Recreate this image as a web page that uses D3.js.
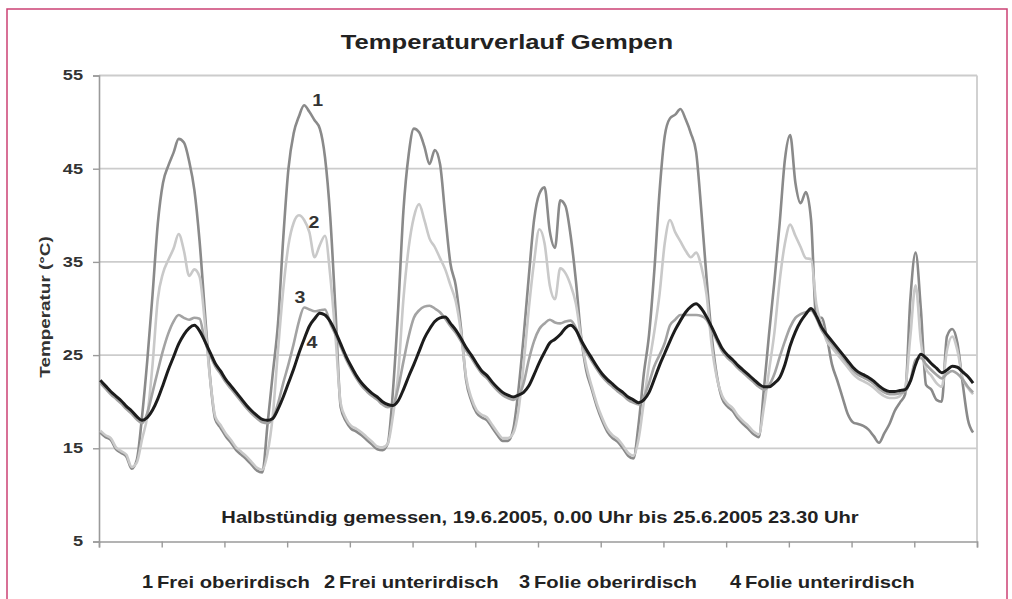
<!DOCTYPE html>
<html>
<head>
<meta charset="utf-8">
<script src="https://cdn.jsdelivr.net/npm/d3@7"></script>
<style>
  body { margin: 0; background: #fff; }
  svg { display: block; font-family: "Liberation Sans", Arial, sans-serif; }
</style>
</head>
<body>
<svg width="1012" height="599"></svg>
<script>
// Hourly readings (hour 0 = 19.6.2005 0.00 Uhr), values in °C
const hours = d3.range(0, 168);

const freiOber = [
  16.7, 16.2, 15.9, 14.9, 14.5, 14.1, 12.8, 13.8, 18.5, 24.5, 31.5, 39.1,
  43.5, 45.3, 46.7, 48.2, 47.8, 45.8, 42.7, 37.2, 29.7, 22.6, 18.1, 17.2,
  16.3, 15.6, 14.8, 14.3, 13.8, 13.2, 12.6, 12.4, 17.6, 23.0, 28.4, 37.5,
  45.0, 48.8, 50.6, 51.8, 51.1, 50.2, 49.3, 46.2, 39.8, 29.8, 19.4, 17.9,
  17.1, 16.8, 16.4, 15.9, 15.4, 14.9, 14.8, 15.5, 21.2, 30.0, 40.5, 46.5,
  49.3, 48.9, 47.4, 45.5, 47.0, 45.5, 40.0, 34.8, 32.5, 28.0, 22.3, 20.1,
  18.8, 18.3, 18.0, 17.2, 16.4, 15.8, 15.8, 17.0, 21.2, 27.0, 33.5, 39.5,
  42.3, 43.0, 38.3, 36.5, 41.6, 41.0, 37.8, 33.0, 27.0, 23.3, 21.4, 19.5,
  18.0, 16.8, 16.1, 15.7, 15.0, 14.2, 13.9, 17.6, 23.0, 27.2, 34.0, 42.5,
  48.5, 50.4, 50.8, 51.4, 50.3, 48.8, 46.8, 40.5, 33.3, 27.0, 22.7, 20.3,
  19.5, 19.0, 18.2, 17.6, 17.1, 16.5, 16.2, 21.5, 27.5, 33.0, 39.2, 46.0,
  48.6, 43.5, 41.3, 42.5, 39.5, 29.0, 29.0, 27.0, 24.0, 22.3, 20.5, 18.7,
  17.8, 17.6, 17.4, 17.0, 16.3, 15.6, 16.6, 17.6, 19.0, 19.9, 20.8, 31.0,
  36.0, 30.0, 21.8, 21.3, 20.2, 20.0, 27.0, 27.8, 26.3, 22.0, 18.1, 16.7
];

const freiUnter = [
  16.9, 16.4, 16.1, 15.1, 14.7, 14.3, 13.0, 13.5, 16.0, 18.5, 24.0, 31.0,
  33.8, 35.2, 36.4, 38.0, 36.2, 33.5, 34.2, 33.4, 28.5, 22.5, 18.4, 17.5,
  16.6, 15.9, 15.1, 14.6, 14.1, 13.5, 12.9, 12.7, 14.5, 18.5, 25.5, 32.0,
  36.8, 39.2, 40.0, 39.5, 38.2, 35.5, 36.8, 37.8, 33.5, 27.0, 19.8, 18.2,
  17.4, 17.1, 16.7, 16.2, 15.7, 15.2, 15.1, 15.5, 18.5, 23.0, 31.0, 36.5,
  39.8, 41.2, 39.5, 37.5, 36.6, 35.4, 34.2, 32.5, 30.8, 27.5, 22.6, 20.4,
  19.1, 18.6, 18.3, 17.5, 16.7, 16.1, 16.1, 16.6, 19.0, 24.0, 30.0, 35.0,
  38.5, 37.0, 32.5, 31.0, 34.3, 33.8, 32.5, 30.5, 26.8, 23.8, 21.7, 19.8,
  18.3, 17.1, 16.4, 16.0, 15.3, 14.5, 14.2, 16.0, 20.0, 24.0, 27.5, 31.5,
  37.0, 39.5, 38.2, 37.2, 36.2, 35.5, 36.0, 34.5, 31.5, 26.0, 22.5, 20.6,
  19.8, 19.3, 18.5, 17.9, 17.4, 16.8, 16.5, 19.5, 23.5, 27.5, 33.0, 37.0,
  39.0, 37.8, 36.6, 35.4, 35.3, 30.5, 28.3, 26.5, 25.8, 25.1, 24.4, 23.7,
  23.0, 22.5, 22.2, 21.9, 21.5, 21.0, 20.6, 20.4, 20.4, 20.6, 21.5, 27.0,
  32.5, 26.5, 23.5, 22.8, 22.0, 21.6, 25.5, 27.0, 25.5, 22.5, 21.5, 20.8
];

const folieOber = [
  22.0, 21.4, 20.8, 20.3, 19.8, 19.2, 18.7, 18.1, 17.7, 18.8, 21.0, 23.3,
  25.5, 27.3, 28.6, 29.3, 29.0, 28.8, 29.0, 28.9, 26.5, 25.0, 23.8, 23.0,
  22.1, 21.4, 20.7, 20.0, 19.3, 18.7, 18.2, 17.8, 17.7, 18.2, 19.8, 22.0,
  24.0, 26.2, 28.6, 30.1, 29.9, 29.7, 29.8, 29.9, 28.4, 27.2, 25.9, 24.6,
  23.5, 22.5, 21.7, 21.1, 20.6, 20.2, 19.7, 19.4, 19.6, 21.5, 24.3, 27.0,
  29.0, 29.8, 30.2, 30.3, 30.0, 29.6, 28.9, 28.1, 27.4, 26.5, 25.5, 24.7,
  23.8, 23.0, 22.5, 21.8, 21.2, 20.7, 20.4, 20.2, 20.6, 22.0, 24.5, 26.5,
  27.8, 28.4, 28.8, 28.5, 28.4, 28.6, 28.7, 27.9, 26.3, 25.3, 24.4, 23.5,
  22.7, 22.1, 21.6, 21.1, 20.7, 20.2, 19.9, 19.7, 20.5, 22.0, 23.8, 25.0,
  26.3, 28.2, 28.8, 29.3, 29.3, 29.3, 29.3, 29.2, 28.8, 27.7, 26.5, 25.4,
  24.7, 24.2, 23.6, 23.1, 22.6, 22.1, 21.6, 21.3, 21.8, 23.0, 24.8, 26.5,
  28.0, 29.0, 29.4, 29.6, 29.8, 29.0, 27.7, 26.9, 26.2, 25.5, 24.8, 24.1,
  23.4, 22.9, 22.6, 22.3, 21.9, 21.4, 21.0, 20.8, 20.8, 20.9, 21.1, 22.3,
  24.5, 24.7, 24.0, 23.4, 22.9, 22.5, 23.0, 23.3, 23.0, 22.4, 21.6, 21.0
];

const folieUnter = [
  22.3, 21.7, 21.1, 20.6, 20.1, 19.5, 19.0, 18.4, 18.0, 18.3, 19.1, 20.3,
  21.8, 23.4, 24.8, 26.2, 27.2, 27.9, 28.2, 27.6, 26.5, 25.3, 24.1, 23.3,
  22.4, 21.7, 21.0, 20.3, 19.6, 19.0, 18.5, 18.1, 18.0, 18.2, 19.2, 20.5,
  22.0, 23.5, 25.2, 26.7, 28.1, 28.9, 29.5, 29.3, 28.6, 27.5, 26.2, 24.9,
  23.8, 22.8, 22.0, 21.4, 20.9, 20.5, 20.0, 19.7, 19.6, 20.1, 21.3, 22.7,
  24.0, 25.4, 26.8, 27.8, 28.6, 29.0, 29.1, 28.4, 27.7, 26.8, 25.8, 25.0,
  24.1, 23.3, 22.8, 22.1, 21.5, 21.0, 20.7, 20.5, 20.7, 21.0, 21.7, 22.9,
  24.2, 25.3, 26.3, 26.7, 27.2, 27.9, 28.2, 27.7, 26.6, 25.6, 24.7, 23.8,
  23.0, 22.4, 21.9, 21.4, 21.0, 20.5, 20.2, 19.9, 20.2, 21.0, 22.4, 23.9,
  25.2, 26.5, 27.7, 28.7, 29.6, 30.2, 30.5, 30.0, 29.1, 28.0, 26.8, 25.7,
  25.0, 24.5, 23.9, 23.4, 22.9, 22.4, 21.9, 21.6, 21.6, 22.0, 22.6, 24.0,
  26.0, 27.5, 28.6, 29.4, 30.0, 29.2, 28.0, 27.2, 26.5, 25.8, 25.1, 24.4,
  23.7, 23.2, 22.9, 22.6, 22.2, 21.7, 21.3, 21.1, 21.1, 21.2, 21.3, 22.2,
  24.0, 25.1, 24.7, 24.1, 23.6, 23.1, 23.4, 23.8, 23.7, 23.2, 22.7, 22.0
];

const seriesNames = ["Frei oberirdisch", "Frei unterirdisch", "Folie oberirdisch", "Folie unterirdisch"];
const seriesValues = [freiOber, freiUnter, folieOber, folieUnter];
const seriesColors = ["#8a8a8a", "#c9c9c9", "#a3a3a3", "#1c1c1c"];
const yTicks = [5, 15, 25, 35, 45, 55];
// number tags drawn next to the curves: [hour, °C]
const tagPositions = [[41.6, 52.4], [40.9, 39.3], [38.2, 31.2], [40.5, 26.4]];

const svg = d3.select("svg");
const plotLeft = 99, plotRight = 977, plotTop = 75.5, plotBottom = 541.5;

// the scan is wider than it is tall, so the lettering is stretched sideways
function label(str, x, y, size, sx, anchor = "middle", rotate = 0) {
  return svg.append("g")
    .attr("transform", `translate(${x},${y}) rotate(${rotate}) scale(${sx},1)`)
    .append("text")
    .attr("text-anchor", anchor)
    .attr("font-size", size).attr("font-weight", "bold").attr("fill", "#222")
    .text(str);
}

// pink frame
svg.append("rect")
  .attr("x", 7).attr("y", 9).attr("width", 1000).attr("height", 600)
  .attr("fill", "none").attr("stroke", "#cc4174").attr("stroke-width", 1.5);

const x = d3.scaleLinear().domain([-0.25, 167.75]).range([plotLeft, plotRight]);
const y = d3.scaleLinear().domain([5, 55]).range([plotBottom, plotTop]);

// horizontal grid
svg.append("g")
  .selectAll("line")
  .data(yTicks.slice(1))
  .join("line")
  .attr("x1", plotLeft).attr("x2", plotRight)
  .attr("y1", d => y(d)).attr("y2", d => y(d))
  .attr("stroke", "#cccccc").attr("stroke-width", 1.8);

// right border of plot
svg.append("line")
  .attr("x1", plotRight).attr("x2", plotRight).attr("y1", plotTop).attr("y2", plotBottom)
  .attr("stroke", "#cccccc").attr("stroke-width", 1.8);

// axes
const yAxis = svg.append("g")
  .attr("transform", `translate(${plotLeft},0)`)
  .call(d3.axisLeft(y).tickValues(yTicks).tickSize(6));
const xAxis = svg.append("g")
  .attr("transform", `translate(0,${plotBottom})`)
  .call(d3.axisBottom(x).tickValues(d3.range(15).map(k => k * 12 - 0.25)).tickSize(6).tickFormat(""));
[yAxis, xAxis].forEach(a => {
  a.select(".domain").attr("stroke", "#9a9a9a").attr("stroke-width", 1.6);
  a.selectAll(".tick line").attr("stroke", "#9a9a9a").attr("stroke-width", 1.4);
});
const tickStretch = 1.3;
yAxis.selectAll(".tick text")
  .attr("transform", `scale(${tickStretch},1)`)
  .attr("x", -16 / tickStretch)
  .attr("font-family", "Liberation Sans, Arial, sans-serif")
  .attr("font-size", 14).attr("font-weight", "bold").attr("fill", "#333");

// lines
const line = d3.line()
  .x((d, i) => x(hours[i]))
  .y(d => y(d))
  .curve(d3.curveMonotoneX);

svg.append("g")
  .selectAll("path")
  .data(seriesValues)
  .join("path")
  .attr("d", line)
  .attr("fill", "none")
  .attr("stroke", (d, i) => seriesColors[i])
  .attr("stroke-width", (d, i) => i === 3 ? 3 : 2.6)
  .attr("stroke-linejoin", "round");

// number tags on the curves
tagPositions.forEach((p, i) => {
  label(String(i + 1), x(p[0]), y(p[1]) + 6, 17, 1.15).attr("fill", "#333");
});

// title
label("Temperaturverlauf Gempen", 507, 49, 20, 1.28);

// y label
label("Temperatur (°C)", 50, 307, 15.5, 1.22, "middle", -90).attr("fill", "#333");

// note inside plot
label("Halbstündig gemessen, 19.6.2005, 0.00 Uhr bis 25.6.2005 23.30 Uhr", 540, 523, 16.5, 1.22);

// legend: number, then series name
const legendNameX = [157, 339, 534, 745];
seriesNames.forEach((name, i) => {
  label(String(i + 1), legendNameX[i] - 4, 588, 19, 1.05, "end");
  label(name, legendNameX[i], 588, 17, 1.19, "start");
});
</script>
</body>
</html>
